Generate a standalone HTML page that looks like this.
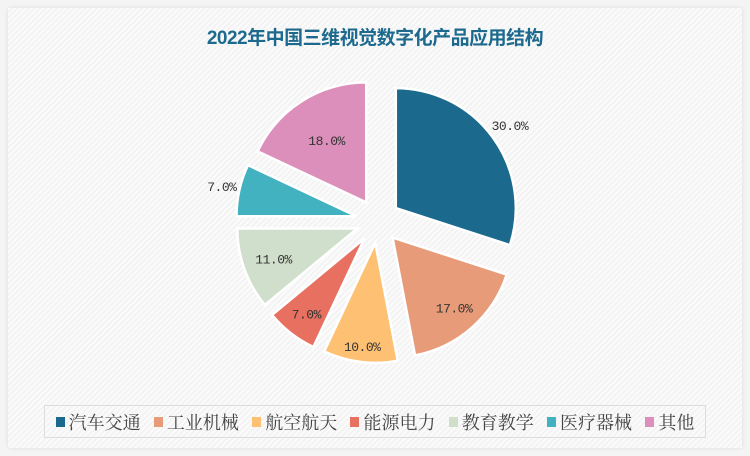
<!DOCTYPE html>
<html><head><meta charset="utf-8"><style>
body{margin:0;width:750px;height:456px;background:#f4f4f4;overflow:hidden;font-family:"Liberation Serif","Noto Serif CJK SC",serif}
#card{position:absolute;left:8px;top:8px;width:734px;height:440px;background:repeating-linear-gradient(135deg,#fbfbfb 0 2px,#f3f3f3 2px 4px);box-shadow:0 0 4px #ddd}
#title{position:absolute;left:0;top:23px;width:750px;text-align:center;font:bold 19px "Liberation Sans","Noto Sans CJK SC",sans-serif;color:#1d6a8e;letter-spacing:-0.5px}
#legend{position:absolute;left:44px;top:405px;width:662px;height:33px;border:1px solid #ddd;box-sizing:border-box;display:flex;align-items:center;justify-content:space-around;padding:0 4px;font:18px "Liberation Serif","Noto Serif CJK SC",serif;color:#444}
.li{display:flex;align-items:center}.sw{width:9px;height:10px;margin-right:4px}
</style></head><body>
<div id="card"></div>
<div id="title">2022年中国三维视觉数字化产品应用结构</div>
<svg id="pie" width="750" height="456" style="position:absolute;left:0;top:0"></svg>
<div id="legend"></div>
<script>
const categories=["汽车交通","工业机械","航空航天","能源电力","教育教学","医疗器械","其他"];
const values=[30,17,10,7,11,7,18];
const colors=["#1b6a8d","#e89b78","#fec174","#e87060","#d0dfcb","#43b2c0","#dc8fba"];
const labelRadius=[141,93,104,95,89,138,74];
const svg=document.getElementById('pie');
const NS="http://www.w3.org/2000/svg";
const cx=378,cy=221,r=120,d=22;
const total=values.reduce((a,b)=>a+b,0);
let acc=0;
values.forEach((v,i)=>{
  const a0=acc/total*2*Math.PI, a1=(acc+v)/total*2*Math.PI; acc+=v;
  const am=(a0+a1)/2;
  const ox=cx+d*Math.sin(am), oy=cy-d*Math.cos(am);
  const p=(a,rr)=>[ox+rr*Math.sin(a),oy-rr*Math.cos(a)];
  const [x0,y0]=p(a0,r),[x1,y1]=p(a1,r);
  const path=document.createElementNS(NS,'path');
  path.setAttribute('d',`M${ox},${oy}L${x0},${y0}A${r},${r} 0 ${a1-a0>Math.PI?1:0} 1 ${x1},${y1}Z`);
  path.setAttribute('fill',colors[i]);path.setAttribute('stroke','#fff');path.setAttribute('stroke-width','2.5');
  
  
  svg.appendChild(path);
  const [lx,ly]=p(am,labelRadius[i]);
  const t=document.createElementNS(NS,'text');
  t.setAttribute('x',lx);t.setAttribute('y',ly+5);t.setAttribute('text-anchor','middle');
  t.setAttribute('font-size','13');t.setAttribute('fill','#333');t.setAttribute('font-family','Liberation Mono, monospace');
  t.setAttribute('letter-spacing','-0.5');
  t.textContent=v.toFixed(1)+'%';
  
  
  svg.appendChild(t);
});
const lg=document.getElementById('legend');
categories.forEach((c,i)=>{
  const e=document.createElement('div');e.className='li';
  e.innerHTML=`<span class="sw" style="background:${colors[i]}"></span>${c}`;
  
  
  lg.appendChild(e);
});
</script>
</body></html>
